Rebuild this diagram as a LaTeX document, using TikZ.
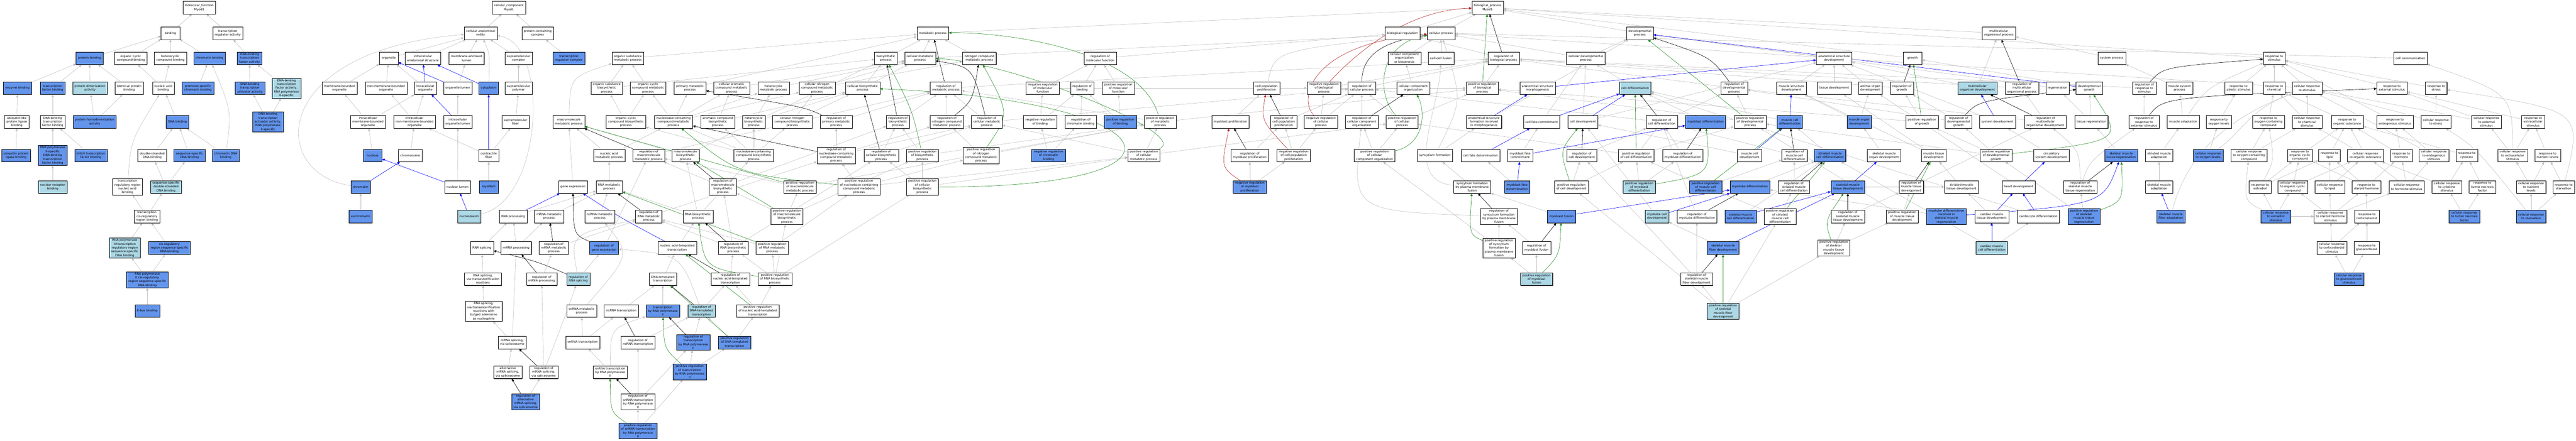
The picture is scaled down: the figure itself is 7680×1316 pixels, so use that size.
\documentclass[tikz,border=0pt]{standalone}
\usepackage{fontspec}
\newfontfamily\gofont{DejaVu Sans}
\usetikzlibrary{arrows.meta,shadows,backgrounds}
\definecolor{hitblue}{HTML}{6495ED}
\definecolor{weakblue}{HTML}{ADD8E6}
\definecolor{edgegray}{HTML}{C0C0C0}
\definecolor{posgreen}{HTML}{228B22}
\definecolor{negred}{HTML}{B22222}
\tikzset{
  goterm/.style={draw=black, line width=0.6pt, fill=white, align=center,
    font={\gofont\fontsize{9}{11.3}\selectfont}, inner xsep=6pt, inner ysep=3pt,
    minimum height=38pt, minimum width=56pt,
    drop shadow={shadow xshift=1.3pt, shadow yshift=-1.3pt, fill=black!50, opacity=1}},
  hit/.style={goterm, fill=hitblue},
  weakhit/.style={goterm, fill=weakblue},
  isa/.style={draw=edgegray, line width=0.9pt, -{Triangle[length=8pt,width=7pt]}},
  partof/.style={isa, draw=blue},
  regs/.style={isa, draw=black},
  posreg/.style={isa, draw=posgreen},
  negreg/.style={isa, draw=negred}
}
\begin{document}
\begin{tikzpicture}[x=1pt,y=-1pt]
\useasboundingbox (0,0) rectangle (7680,1316);

\node[goterm] (mf) at (594,23) {molecular\_function\\Myod1};
\node[goterm] (binding) at (508,99) {binding};
\node[goterm] (txreg) at (679,99) {transcription\\regulator activity};
\node[hit] (protbind) at (267,174) {protein binding};
\node[goterm] (orgcycbind) at (390,174) {organic cyclic\\compound binding};
\node[goterm] (hetcycbind) at (508,174) {heterocyclic\\compound binding};
\node[hit] (chrombind) at (625,174) {chromatin binding};
\node[hit] (dbtf) at (744,174) {DNA-binding\\transcription\\factor activity};
\node[hit] (enzbind) at (52,263) {enzyme binding};
\node[hit] (tfbind) at (157,263) {transcription\\factor binding};
\node[weakhit] (dimer) at (268,263) {protein dimerization\\activity};
\node[goterm] (identbind) at (385,263) {identical protein\\binding};
\node[goterm] (nabind) at (487,263) {nucleic acid\\binding};
\node[hit] (promchrom) at (590,263) {promoter-specific\\chromatin binding};
\node[hit] (dbta) at (745,263) {DNA-binding\\transcription\\activator activity};
\node[weakhit] (dbtfpol) at (854,263) {DNA-binding\\transcription\\factor activity,\\RNA polymerase\\II-specific};
\node[goterm] (ublbind) at (50,364) {ubiquitin-like\\protein ligase\\binding};
\node[goterm] (dbtfbind) at (157,364) {DNA-binding\\transcription\\factor binding};
\node[hit] (homodimer) at (282,364) {protein homodimerization\\activity};
\node[hit] (dnabind) at (529,364) {DNA binding};
\node[hit] (dbtapol) at (799,364) {DNA-binding\\transcription\\activator activity,\\RNA polymerase\\II-specific};
\node[hit] (ubbind) at (48,464) {ubiquitin protein\\ligase binding};
\node[hit] (poltfbind) at (157,464) {RNA polymerase\\II-specific\\DNA-binding\\transcription\\factor binding};
\node[hit] (bhlh) at (271,464) {bHLH transcription\\factor binding};
\node[goterm] (dsdna) at (454,464) {double-stranded\\DNA binding};
\node[hit] (ssdna) at (565,464) {sequence-specific\\DNA binding};
\node[hit] (chromdna) at (673,464) {chromatin DNA\\binding};
\node[weakhit] (nrbind) at (157,558) {nuclear receptor\\binding};
\node[goterm] (trrbind) at (380,558) {transcription\\regulatory region\\nucleic acid\\binding};
\node[weakhit] (ssdsdna) at (495,558) {sequence-specific\\double-stranded\\DNA binding};
\node[goterm] (cisbind) at (438,646) {transcription\\cis-regulatory\\region binding};
\node[weakhit] (poltrr) at (372,740) {RNA polymerase\\II transcription\\regulatory region\\sequence-specific\\DNA binding};
\node[hit] (cisss) at (505,740) {cis-regulatory\\region sequence-specific\\DNA binding};
\node[hit] (polcis) at (439,835) {RNA polymerase\\II cis-regulatory\\region sequence-specific\\DNA binding};
\node[hit] (ebox) at (439,928) {E-box binding};

\node[goterm] (cc) at (1517,23) {cellular\_component\\Myod1};
\node[goterm] (cae) at (1433,99) {cellular anatomical\\entity};
\node[goterm] (pcc) at (1603,99) {protein-containing\\complex};
\node[goterm] (organelle) at (1159,174) {organelle};
\node[goterm] (ias) at (1261,174) {intracellular\\anatomical structure};
\node[goterm] (mel) at (1391,174) {membrane-enclosed\\lumen};
\node[goterm] (supcomp) at (1546,174) {supramolecular\\complex};
\node[hit] (trcomp) at (1696,174) {transcription\\regulator complex};
\node[goterm] (mbo) at (1012,263) {membrane-bounded\\organelle};
\node[goterm] (nmbo) at (1151,263) {non-membrane-bounded\\organelle};
\node[goterm] (icorg) at (1268,263) {intracellular\\organelle};
\node[goterm] (orglumen) at (1365,263) {organelle lumen};
\node[hit] (cytoplasm) at (1457,263) {cytoplasm};
\node[goterm] (suppoly) at (1546,263) {supramolecular\\polymer};
\node[goterm] (imbo) at (1097,364) {intracellular\\membrane-bounded\\organelle};
\node[goterm] (inmbo) at (1236,364) {intracellular\\non-membrane-bounded\\organelle};
\node[goterm] (icorglumen) at (1365,364) {intracellular\\organelle lumen};
\node[goterm] (supfiber) at (1537,364) {supramolecular\\fiber};
\node[hit] (nucleus) at (1111,464) {nucleus};
\node[goterm] (chromosome) at (1223,464) {chromosome};
\node[goterm] (contractile) at (1457,464) {contractile\\fiber};
\node[hit] (chromatin) at (1075,558) {chromatin};
\node[goterm] (nuclumen) at (1364,558) {nuclear lumen};
\node[hit] (myofibril) at (1457,558) {myofibril};
\node[hit] (euchromatin) at (1075,646) {euchromatin};
\node[weakhit] (nucleoplasm) at (1399,646) {nucleoplasm};

\node[goterm] (osmp) at (1872,174) {organic substance\\metabolic process};
\node[goterm] (osbp) at (1809,263) {organic substance\\biosynthetic\\process};
\node[goterm] (occmp) at (1932,263) {organic cyclic\\compound metabolic\\process};
\node[goterm] (mmp) at (1696,364) {macromolecule\\metabolic process};
\node[goterm] (occbp) at (1866,364) {organic cyclic\\compound biosynthetic\\process};
\node[goterm] (namp) at (1816,464) {nucleic acid\\metabolic process};
\node[goterm] (regmmp) at (1934,464) {regulation of\\macromolecule\\metabolic process};
\node[goterm] (geneexp) at (1708,558) {gene expression};
\node[goterm] (rnamp) at (1816,558) {RNA metabolic\\process};
\node[goterm] (rnaproc) at (1530,646) {RNA processing};
\node[goterm] (mrnamp) at (1637,646) {mRNA metabolic\\process};
\node[goterm] (ncrnamp) at (1788,646) {ncRNA metabolic\\process};
\node[goterm] (regrnamp) at (1934,646) {regulation of\\RNA metabolic\\process};
\node[goterm] (splicing) at (1437,740) {RNA splicing};
\node[goterm] (mrnaproc) at (1539,740) {mRNA processing};
\node[goterm] (regmrnamp) at (1651,740) {regulation of\\mRNA metabolic\\process};
\node[hit] (reggeneexp) at (1801,740) {regulation of\\gene expression};
\node[goterm] (splicetrans) at (1440,833) {RNA splicing,\\via transesterification\\reactions};
\node[goterm] (regmrnaproc) at (1615,833) {regulation of\\mRNA processing};
\node[weakhit] (regsplicing) at (1724,833) {regulation of\\RNA splicing};
\node[goterm] (splicebulged) at (1442,929) {RNA splicing,\\via transesterification\\reactions with\\bulged adenosine\\as nucleophile};
\node[goterm] (snrnamp) at (1734,928) {snRNA metabolic\\process};
\node[goterm] (ncrnatx) at (1852,928) {ncRNA transcription};
\node[goterm] (splicesome) at (1527,1022) {mRNA splicing,\\via spliceosome};
\node[goterm] (snrnatx) at (1737,1022) {snRNA transcription};
\node[goterm] (regncrnatx) at (1902,1022) {regulation of\\ncRNA transcription};
\node[goterm] (altsplice) at (1514,1111) {alternative\\mRNA splicing,\\via spliceosome};
\node[goterm] (regsplicesome) at (1621,1111) {regulation of\\mRNA splicing,\\via spliceosome};
\node[goterm] (snrnapol) at (1819,1111) {snRNA transcription\\by RNA polymerase\\II};
\node[hit] (regaltsplice) at (1567,1199) {regulation of\\alternative\\mRNA splicing,\\via spliceosome};
\node[goterm] (regsnrnapol) at (1902,1199) {regulation of\\snRNA transcription\\by RNA polymerase\\II};
\node[hit] (posregsnrnapol) at (1902,1286) {positive regulation\\of snRNA transcription\\by RNA polymerase\\II};

\node[goterm] (pmp) at (2057,263) {primary metabolic\\process};
\node[goterm] (camp) at (2181,263) {cellular aromatic\\compound metabolic\\process};
\node[goterm] (hmp) at (2306,263) {heterocycle\\metabolic process};
\node[goterm] (cncmp) at (2436,263) {cellular nitrogen\\compound metabolic\\process};
\node[goterm] (cbp) at (2572,263) {cellular biosynthetic\\process};
\node[goterm] (nccmp) at (2008,364) {nucleobase-containing\\compound metabolic\\process};
\node[goterm] (acbp) at (2140,364) {aromatic compound\\biosynthetic\\process};
\node[goterm] (hbp) at (2247,364) {heterocycle\\biosynthetic\\process};
\node[goterm] (cncbp) at (2362,364) {cellular nitrogen\\compound biosynthetic\\process};
\node[goterm] (regpmp) at (2493,364) {regulation of\\primary metabolic\\process};
\node[goterm] (mbp) at (2044,464) {macromolecule\\biosynthetic\\process};
\node[goterm] (nccbp) at (2247,464) {nucleobase-containing\\compound biosynthetic\\process};
\node[goterm] (regnccmp) at (2493,464) {regulation of\\nucleobase-containing\\compound metabolic\\process};
\node[goterm] (regmbp) at (2155,558) {regulation of\\macromolecule\\biosynthetic\\process};
\node[goterm] (posregmmp) at (2385,558) {positive regulation\\of macromolecule\\metabolic process};
\node[goterm] (posregnccmp) at (2561,558) {positive regulation\\of nucleobase-containing\\compound metabolic\\process};
\node[goterm] (rnabp) at (2081,646) {RNA biosynthetic\\process};
\node[goterm] (posregmbp) at (2346,646) {positive regulation\\of macromolecule\\biosynthetic\\process};
\node[goterm] (natx) at (2019,740) {nucleic acid-templated\\transcription};
\node[goterm] (regrnabp) at (2186,740) {regulation of\\RNA biosynthetic\\process};
\node[goterm] (posregrnamp) at (2302,740) {positive regulation\\of RNA metabolic\\process};
\node[goterm] (dtx) at (1976,833) {DNA-templated\\transcription};
\node[goterm] (regnatx) at (2177,833) {regulation of\\nucleic acid-templated\\transcription};
\node[goterm] (posregrnabp) at (2310,833) {positive regulation\\of RNA biosynthetic\\process};
\node[hit] (txpol) at (1976,928) {transcription\\by RNA polymerase\\II};
\node[weakhit] (regdtx) at (2091,928) {regulation of\\DNA-templated\\transcription};
\node[goterm] (posregnatx) at (2259,928) {positive regulation\\of nucleic acid-templated\\transcription};
\node[hit] (regtxpol) at (2067,1022) {regulation of\\transcription\\by RNA polymerase\\II};
\node[hit] (posregdtx) at (2190,1022) {positive regulation\\of DNA-templated\\transcription};
\node[hit] (posregtxpol) at (2056,1110) {positive regulation\\of transcription\\by RNA polymerase\\II};

\node[goterm] (mp) at (2781,99) {metabolic process};
\node[goterm] (bp) at (2641,174) {biosynthetic\\process};
\node[goterm] (cmp) at (2743,174) {cellular metabolic\\process};
\node[goterm] (ncmp) at (2920,174) {nitrogen compound\\metabolic process};
\node[goterm] (regmp) at (2820,263) {regulation of\\metabolic process};
\node[goterm] (negregmf) at (3109,263) {negative regulation\\of molecular\\function};
\node[goterm] (regbind) at (3226,263) {regulation of\\binding};
\node[goterm] (regbp) at (2677,364) {regulation of\\biosynthetic\\process};
\node[goterm] (regncmp) at (2823,364) {regulation of\\nitrogen compound\\metabolic process};
\node[goterm] (regcmp) at (2942,364) {regulation of\\cellular metabolic\\process};
\node[goterm] (negregbind) at (3101,364) {negative regulation\\of binding};
\node[goterm] (regchrombind) at (3222,364) {regulation of\\chromatin binding};
\node[goterm] (regcbp) at (2627,464) {regulation of\\cellular biosynthetic\\process};
\node[goterm] (posregbp) at (2750,464) {positive regulation\\of biosynthetic\\process};
\node[goterm] (posregncmp) at (2925,464) {positive regulation\\of nitrogen\\compound metabolic\\process};
\node[hit] (negregchrombind) at (3126,464) {negative regulation\\of chromatin\\binding};
\node[goterm] (posregcbp) at (2750,558) {positive regulation\\of cellular\\biosynthetic\\process};

\node[goterm] (regmf) at (3280,174) {regulation of\\molecular function};
\node[goterm] (posregmf) at (3334,263) {positive regulation\\of molecular\\function};
\node[goterm] (cpp) at (3776,263) {cell population\\proliferation};
\node[hit] (posregbind) at (3340,364) {positive regulation\\of binding};
\node[goterm] (posregmp) at (3459,364) {positive regulation\\of metabolic\\process};
\node[goterm] (mbprolif) at (3668,364) {myoblast proliferation};
\node[goterm] (regcpp) at (3827,364) {regulation of\\cell population\\proliferation};
\node[goterm] (posregcmp) at (3410,464) {positive regulation\\of cellular\\metabolic process};
\node[goterm] (regmbprolif) at (3726,464) {regulation of\\myoblast proliferation};
\node[goterm] (negregcpp) at (3857,464) {negative regulation\\of cell population\\proliferation};
\node[hit] (negregmbprolif) at (3726,558) {negative regulation\\of myoblast\\proliferation};

\node[goterm] (bp0) at (4435,23) {biological\_process\\Myod1};
\node[goterm] (bioreg) at (4181,99) {biological regulation};
\node[goterm] (cellproc) at (4296,99) {cellular process};
\node[goterm] (ccob) at (4187,174) {cellular component\\organization\\or biogenesis};
\node[goterm] (ccfusion) at (4296,174) {cell-cell fusion};
\node[goterm] (regbioproc) at (4483,174) {regulation of\\biological process};
\node[goterm] (negregbioproc) at (3947,263) {negative regulation\\of biological\\process};
\node[goterm] (regcellproc) at (4060,263) {regulation of\\cellular process};
\node[goterm] (cco) at (4213,263) {cellular component\\organization};
\node[goterm] (posregbioproc) at (4419,263) {positive regulation\\of biological\\process};
\node[goterm] (negregcellproc) at (3938,364) {negative regulation\\of cellular\\process};
\node[goterm] (regcco) at (4060,364) {regulation of\\cellular component\\organization};
\node[goterm] (posregcellproc) at (4180,364) {positive regulation\\of cellular\\process};
\node[goterm] (asfim) at (4424,364) {anatomical structure\\formation involved\\in morphogenesis};
\node[goterm] (posregcco) at (4098,464) {positive regulation\\of cellular\\component organization};
\node[goterm] (syncyt) at (4278,464) {syncytium formation};
\node[goterm] (cfdet) at (4414,464) {cell fate determination};
\node[goterm] (syncytpm) at (4389,558) {syncytium formation\\by plasma membrane\\fusion};
\node[goterm] (regsyncytpm) at (4469,646) {regulation of\\syncytium formation\\by plasma membrane\\fusion};
\node[goterm] (posregsyncytpm) at (4469,740) {positive regulation\\of syncytium\\formation by\\plasma membrane\\fusion};

\node[goterm] (devproc) at (4889,99) {developmental\\process};
\node[goterm] (celldevproc) at (4728,174) {cellular developmental\\process};
\node[goterm] (asm) at (4584,263) {anatomical structure\\morphogenesis};
\node[weakhit] (celldiff) at (4875,263) {cell differentiation};
\node[goterm] (cfcommit) at (4596,364) {cell fate commitment};
\node[goterm] (celldev) at (4719,364) {cell development};
\node[goterm] (regcelldiff) at (4954,364) {regulation of\\cell differentiation};
\node[hit] (mbdiff) at (5085,364) {myoblast differentiation};
\node[goterm] (mbfatecommit) at (4532,464) {myoblast fate\\commitment};
\node[goterm] (regcelldev) at (4716,464) {regulation of\\cell development};
\node[goterm] (posregcelldiff) at (4878,464) {positive regulation\\of cell differentiation};
\node[goterm] (regmbdiff) at (5017,464) {regulation of\\myoblast differentiation};
\node[hit] (mbfatedet) at (4523,558) {myoblast fate\\determination};
\node[goterm] (posregcelldev) at (4685,558) {positive regulation\\of cell development};
\node[weakhit] (posregmbdiff) at (4887,558) {positive regulation\\of myoblast\\differentiation};
\node[hit] (posregmcdiff) at (5085,558) {positive regulation\\of muscle cell\\differentiation};
\node[hit] (mbfusion) at (4655,646) {myoblast fusion};
\node[weakhit] (myotubedev) at (4940,646) {myotube cell\\development};
\node[goterm] (regmyotubediff) at (5059,646) {regulation of\\myotube differentiation};
\node[goterm] (regmbfusion) at (4581,740) {regulation of\\myoblast fusion};
\node[hit] (smfdev) at (5137,740) {skeletal muscle\\fiber development};
\node[weakhit] (posregmbfusion) at (4581,833) {positive regulation\\of myoblast\\fusion};
\node[goterm] (regsmfdev) at (5058,833) {regulation of\\skeletal muscle\\fiber development};
\node[weakhit] (posregsmfdev) at (5137,929) {positive regulation\\of skeletal\\muscle fiber\\development};

\node[goterm] (asd) at (5468,174) {anatomical structure\\development};
\node[goterm] (growth) at (5702,174) {growth};
\node[goterm] (regdevproc) at (5170,263) {regulation of\\developmental\\process};
\node[goterm] (msd) at (5341,263) {muscle structure\\development};
\node[goterm] (tissuedev) at (5468,263) {tissue development};
\node[goterm] (aod) at (5576,263) {animal organ\\development};
\node[goterm] (reggrowth) at (5670,263) {regulation of\\growth};
\node[goterm] (posregdevproc) at (5218,364) {positive regulation\\of developmental\\process};
\node[hit] (mcdiff) at (5336,364) {muscle cell\\differentiation};
\node[hit] (mod) at (5543,364) {muscle organ\\development};
\node[goterm] (posreggrowth) at (5730,364) {positive regulation\\of growth};
\node[goterm] (mcdev) at (5216,464) {muscle cell\\development};
\node[goterm] (regmcdiff) at (5350,464) {regulation of\\muscle cell\\differentiation};
\node[hit] (smcdiff) at (5456,464) {striated muscle\\cell differentiation};
\node[goterm] (smod) at (5617,464) {skeletal muscle\\organ development};
\node[goterm] (mtd) at (5765,464) {muscle tissue\\development};
\node[hit] (myotubediff) at (5217,558) {myotube differentiation};
\node[goterm] (regsmcdiff) at (5348,558) {regulation of\\striated muscle\\cell differentiation};
\node[hit] (smtd) at (5509,558) {skeletal muscle\\tissue development};
\node[goterm] (regmtd) at (5698,558) {regulation of\\muscle tissue\\development};
\node[hit] (skmcdiff) at (5189,646) {skeletal muscle\\cell differentiation};
\node[goterm] (posregsmcdiff) at (5307,646) {positive regulation\\of striated\\muscle cell\\differentiation};
\node[goterm] (regsmtd) at (5509,646) {regulation of\\skeletal muscle\\tissue development};
\node[goterm] (posregmtd) at (5671,646) {positive regulation\\of muscle tissue\\development};
\node[hit] (myotuberegen) at (5803,646) {myotube differentiation\\involved in\\skeletal muscle\\regeneration};
\node[goterm] (posregsmtd) at (5467,740) {positive regulation\\of skeletal\\muscle tissue\\development};

\node[goterm] (mop) at (5959,99) {multicellular\\organismal process};
\node[goterm] (sysproc) at (6296,174) {system process};
\node[weakhit] (mcorgdev) at (5895,263) {multicellular\\organism development};
\node[goterm] (regmop) at (6028,263) {regulation of\\multicellular\\organismal process};
\node[goterm] (regeneration) at (6134,263) {regeneration};
\node[goterm] (devgrowth) at (6229,263) {developmental\\growth};
\node[goterm] (regrespstim) at (6393,263) {regulation of\\response to\\stimulus};
\node[goterm] (regdevgrowth) at (5839,364) {regulation of\\developmental\\growth};
\node[goterm] (sysdev) at (5955,364) {system development};
\node[goterm] (regmcod) at (6098,364) {regulation of\\multicellular\\organismal development};
\node[goterm] (tissueregen) at (6235,364) {tissue regeneration};
\node[goterm] (regrespext) at (6392,364) {regulation of\\response to\\external stimulus};
\node[goterm] (posregdevgrowth) at (5951,464) {positive regulation\\of developmental\\growth};
\node[goterm] (csd) at (6116,464) {circulatory\\system development};
\node[hit] (smtr) at (6324,464) {skeletal muscle\\tissue regeneration};
\node[goterm] (stmadapt) at (6437,464) {striated muscle\\adaptation};
\node[goterm] (stmtd) at (5848,558) {striated muscle\\tissue development};
\node[goterm] (heartdev) at (6018,558) {heart development};
\node[goterm] (regsmtr) at (6202,558) {regulation of\\skeletal muscle\\tissue regeneration};
\node[goterm] (skmadapt) at (6437,558) {skeletal muscle\\adaptation};
\node[goterm] (cmtd) at (5938,646) {cardiac muscle\\tissue development};
\node[goterm] (cardiodiff) at (6077,646) {cardiocyte differentiation};
\node[hit] (posregsmtr) at (6213,646) {positive regulation\\of skeletal\\muscle tissue\\regeneration};
\node[weakhit] (cmcdiff) at (5938,740) {cardiac muscle\\cell differentiation};

\node[goterm] (respstim) at (6780,174) {response to\\stimulus};
\node[goterm] (musclesys) at (6498,263) {muscle system\\process};
\node[goterm] (respabio) at (6674,263) {response to\\abiotic stimulus};
\node[goterm] (respchem) at (6780,263) {response to\\chemical};
\node[goterm] (cellrespstim) at (6878,263) {cellular response\\to stimulus};
\node[goterm] (muscleadapt) at (6509,364) {muscle adaptation};
\node[goterm] (respoxy) at (6615,364) {response to\\oxygen levels};
\node[goterm] (respoxcomp) at (6763,364) {response to\\oxygen-containing\\compound};
\node[goterm] (cellrespchem) at (6878,364) {cellular response\\to chemical\\stimulus};
\node[goterm] (resporg) at (6998,364) {response to\\organic substance};
\node[hit] (cellrespoxy) at (6583,464) {cellular response\\to oxygen levels};
\node[goterm] (cellrespoxcomp) at (6705,464) {cellular response\\to oxygen-containing\\compound};
\node[goterm] (respocc) at (6857,464) {response to\\organic cyclic\\compound};
\node[goterm] (resplipid) at (6945,464) {response to\\lipid};
\node[goterm] (cellresporg) at (7052,464) {cellular response\\to organic substance};
\node[goterm] (respestradiol) at (6738,558) {response to\\estradiol};
\node[goterm] (cellrespocc) at (6835,558) {cellular response\\to organic cyclic\\compound};
\node[goterm] (cellresplipid) at (6946,558) {cellular response\\to lipid};
\node[goterm] (respsteroid) at (7055,558) {response to\\steroid hormone};
\node[hit] (skmfadapt) at (6472,646) {skeletal muscle\\fiber adaptation};
\node[hit] (cellrespestradiol) at (6785,646) {cellular response\\to estradiol\\stimulus};
\node[goterm] (cellrespsteroid) at (6948,646) {cellular response\\to steroid hormone\\stimulus};
\node[goterm] (respcortico) at (7056,646) {response to\\corticosteroid};
\node[goterm] (cellrespcortico) at (6952,740) {cellular response\\to corticosteroid\\stimulus};
\node[goterm] (respgluco) at (7056,740) {response to\\glucocorticoid};
\node[hit] (cellrespgluco) at (7003,833) {cellular response\\to glucocorticoid\\stimulus};

\node[goterm] (cellcomm) at (7186,174) {cell communication};
\node[goterm] (respext) at (7131,263) {response to\\external stimulus};
\node[goterm] (respstress) at (7263,263) {response to\\stress};
\node[goterm] (respendo) at (7140,364) {response to\\endogenous stimulus};
\node[goterm] (cellrespstress) at (7262,364) {cellular response\\to stress};
\node[goterm] (cellrespext) at (7413,364) {cellular response\\to external\\stimulus};
\node[goterm] (respextcell) at (7552,364) {response to\\extracellular\\stimulus};
\node[goterm] (resphormone) at (7159,464) {response to\\hormone};
\node[goterm] (cellrespendo) at (7256,464) {cellular response\\to endogenous\\stimulus};
\node[goterm] (respcyto) at (7354,464) {response to\\cytokine};
\node[goterm] (cellrespextcell) at (7491,464) {cellular response\\to extracellular\\stimulus};
\node[goterm] (respnutr) at (7595,464) {response to\\nutrient levels};
\node[goterm] (cellresphormone) at (7175,558) {cellular response\\to hormone stimulus};
\node[goterm] (cellrespcyto) at (7295,558) {cellular response\\to cytokine\\stimulus};
\node[goterm] (resptnf) at (7401,558) {response to\\tumor necrosis\\factor};
\node[goterm] (cellrespnutr) at (7546,558) {cellular response\\to nutrient\\levels};
\node[goterm] (respstarv) at (7643,558) {response to\\starvation};
\node[hit] (cellresptnf) at (7347,646) {cellular response\\to tumor necrosis\\factor};
\node[hit] (cellrespstarv) at (7546,646) {cellular response\\to starvation};

\begin{scope}[on background layer]
\fill[white] (0,0) rectangle (7680,1316);
\draw[isa] (binding) -- (mf); \draw[isa] (txreg) -- (mf); \draw[isa] (protbind) -- (binding); \draw[isa] (orgcycbind) -- (binding);
\draw[isa] (hetcycbind) -- (binding); \draw[isa] (chrombind) -- (binding); \draw[isa] (dbtf) -- (txreg); \draw[isa] (enzbind) -- (protbind);
\draw[isa] (tfbind) -- (protbind); \draw[isa] (dimer) -- (protbind); \draw[isa] (identbind) -- (protbind); \draw[isa] (nabind) -- (orgcycbind);
\draw[isa] (nabind) -- (hetcycbind); \draw[isa] (promchrom) -- (chrombind); \draw[isa] (dbta) -- (dbtf); \draw[isa] (dbtfpol) -- (dbtf);
\draw[isa] (ublbind) -- (enzbind); \draw[isa] (dbtfbind) -- (tfbind); \draw[isa] (homodimer) -- (dimer); \draw[isa] (homodimer) -- (identbind);
\draw[isa] (dnabind) -- (nabind); \draw[isa] (dbtapol) -- (dbta); \draw[isa] (dbtapol) -- (dbtfpol); \draw[isa] (ubbind) -- (ublbind);
\draw[isa] (poltfbind) -- (dbtfbind); \draw[isa] (bhlh) -- (dbtfbind); \draw[isa] (dsdna) -- (dnabind); \draw[isa] (ssdna) -- (dnabind);
\draw[isa] (chromdna) -- (dnabind); \draw[isa] (chromdna) .. controls (690,330) .. (chrombind); \draw[isa] (nrbind) -- (poltfbind); \draw[isa] (trrbind) .. controls (390,420) .. (nabind);
\draw[isa] (ssdsdna) -- (dsdna); \draw[isa] (ssdsdna) -- (ssdna); \draw[isa] (cisbind) -- (trrbind); \draw[isa] (cisbind) -- (ssdsdna);
\draw[isa] (poltrr) -- (cisbind); \draw[isa] (cisss) -- (cisbind); \draw[isa] (polcis) -- (poltrr); \draw[isa] (polcis) -- (cisss);
\draw[isa] (ebox) -- (polcis);

\draw[isa] (cae) -- (cc); \draw[isa] (pcc) -- (cc); \draw[isa] (organelle) -- (cae); \draw[isa] (ias) -- (cae);
\draw[isa] (mel) -- (cae); \draw[isa] (supcomp) -- (cae); \draw[isa] (cytoplasm) .. controls (1460,160) .. (cae); \draw[isa] (trcomp) -- (pcc);
\draw[isa] (mbo) -- (organelle); \draw[isa] (nmbo) -- (organelle); \draw[isa] (icorg) -- (organelle); \draw[isa] (orglumen) -- (mel);
\draw[isa] (suppoly) -- (supcomp); \draw[isa] (imbo) -- (mbo); \draw[isa] (imbo) -- (icorg); \draw[isa] (inmbo) -- (nmbo);
\draw[isa] (inmbo) -- (icorg); \draw[isa] (icorglumen) -- (orglumen); \draw[isa] (supfiber) -- (suppoly); \draw[isa] (nucleus) -- (imbo);
\draw[isa] (chromosome) -- (inmbo); \draw[isa] (contractile) -- (supfiber); \draw[isa] (contractile) -- (inmbo); \draw[isa] (nuclumen) -- (icorglumen);
\draw[isa] (myofibril) -- (contractile); \draw[isa] (chromatin) .. controls (800,520) and (800,150) .. (cae); \draw[isa] (euchromatin) -- (chromatin); \draw[isa] (nucleoplasm) .. controls (1620,600) and (1640,130) .. (cae);
\draw[partof] (orglumen) -- (organelle); \draw[partof] (icorg) -- (ias); \draw[partof] (cytoplasm) -- (ias); \draw[partof] (icorglumen) -- (icorg);
\draw[partof] (contractile) -- (cytoplasm); \draw[partof] (nuclumen) -- (nucleus); \draw[partof] (chromatin) -- (chromosome); \draw[partof] (nucleoplasm) -- (nuclumen);

\draw[isa] (mp) -- (bp0); \draw[isa] (osmp) -- (mp); \draw[isa] (pmp) -- (mp); \draw[isa] (cmp) -- (mp);
\draw[isa] (cmp) -- (cellproc); \draw[isa] (bp) -- (mp); \draw[isa] (ncmp) -- (mp); \draw[isa] (osbp) -- (osmp);
\draw[isa] (osbp) -- (bp); \draw[isa] (occmp) -- (osmp); \draw[isa] (camp) -- (cmp); \draw[isa] (hmp) -- (cmp);
\draw[isa] (cncmp) -- (cmp); \draw[isa] (cncmp) -- (ncmp); \draw[isa] (cbp) -- (cmp); \draw[isa] (cbp) -- (bp);
\draw[isa] (mmp) .. controls (1700,230) .. (osmp); \draw[isa] (occbp) -- (occmp); \draw[isa] (occbp) -- (osbp); \draw[isa] (nccmp) -- (occmp);
\draw[isa] (nccmp) -- (pmp); \draw[isa] (nccmp) -- (camp); \draw[isa] (nccmp) -- (hmp); \draw[isa] (nccmp) -- (cncmp);
\draw[isa] (acbp) -- (camp); \draw[isa] (acbp) -- (cbp); \draw[isa] (hbp) -- (hmp); \draw[isa] (hbp) -- (cbp);
\draw[isa] (cncbp) -- (cncmp); \draw[isa] (cncbp) -- (cbp); \draw[isa] (regpmp) -- (regmp); \draw[isa] (namp) -- (nccmp);
\draw[isa] (namp) -- (mmp); \draw[isa] (regmmp) -- (regmp); \draw[isa] (mbp) -- (mmp); \draw[isa] (mbp) -- (bp);
\draw[isa] (nccbp) -- (nccmp); \draw[isa] (nccbp) -- (acbp); \draw[isa] (nccbp) -- (hbp); \draw[isa] (nccbp) -- (cncbp);
\draw[isa] (nccbp) -- (occbp); \draw[isa] (regnccmp) -- (regpmp); \draw[isa] (regnccmp) -- (regncmp); \draw[isa] (regnccmp) -- (regcmp);
\draw[isa] (geneexp) -- (mmp); \draw[isa] (rnamp) -- (namp); \draw[isa] (regmbp) -- (regmmp); \draw[isa] (regmbp) -- (regbp);
\draw[isa] (posregmmp) -- (regmmp); \draw[isa] (posregmmp) -- (posregmp); \draw[isa] (posregnccmp) -- (regnccmp); \draw[isa] (posregnccmp) -- (posregncmp);
\draw[isa] (posregnccmp) -- (posregcmp); \draw[isa] (rnaproc) -- (rnamp); \draw[isa] (mrnamp) -- (rnamp); \draw[isa] (ncrnamp) -- (rnamp);
\draw[isa] (regrnamp) -- (regnccmp); \draw[isa] (rnabp) -- (rnamp); \draw[isa] (rnabp) -- (nccbp); \draw[isa] (rnabp) -- (mbp);
\draw[isa] (posregmbp) -- (regmbp); \draw[isa] (posregmbp) -- (posregmmp); \draw[isa] (posregmbp) -- (posregbp); \draw[isa] (splicing) -- (rnaproc);
\draw[isa] (mrnaproc) -- (rnaproc); \draw[isa] (mrnaproc) -- (mrnamp); \draw[isa] (regmrnamp) -- (regrnamp); \draw[isa] (reggeneexp) -- (regmmp);
\draw[isa] (natx) -- (rnabp); \draw[isa] (regrnabp) -- (regrnamp); \draw[isa] (regrnabp) -- (regmbp); \draw[isa] (regrnabp) -- (regcbp);
\draw[isa] (posregrnamp) -- (regrnamp); \draw[isa] (posregrnamp) -- (posregnccmp); \draw[isa] (splicetrans) -- (splicing); \draw[isa] (regmrnaproc) -- (regmrnamp);
\draw[isa] (regsplicing) .. controls (1700,700) .. (regrnamp); \draw[isa] (regsplicing) -- (reggeneexp); \draw[isa] (dtx) -- (natx); \draw[isa] (regnatx) -- (regrnabp);
\draw[isa] (posregrnabp) -- (regrnabp); \draw[isa] (posregrnabp) -- (posregrnamp); \draw[isa] (posregrnabp) -- (posregmbp); \draw[isa] (posregrnabp) -- (posregcbp);
\draw[isa] (splicebulged) -- (splicetrans); \draw[isa] (snrnamp) .. controls (1880,760) .. (ncrnamp); \draw[isa] (ncrnatx) -- (dtx); \draw[isa] (txpol) -- (dtx);
\draw[isa] (regdtx) -- (regnatx); \draw[isa] (regdtx) .. controls (2030,760) .. (reggeneexp); \draw[isa] (posregnatx) -- (regnatx); \draw[isa] (posregnatx) -- (posregrnabp);
\draw[isa] (splicesome) -- (splicebulged); \draw[isa] (splicesome) -- (mrnaproc); \draw[isa] (snrnatx) -- (snrnamp); \draw[isa] (snrnatx) -- (ncrnatx);
\draw[isa] (regncrnatx) -- (regdtx); \draw[isa] (regtxpol) -- (regdtx); \draw[isa] (posregdtx) -- (regdtx); \draw[isa] (posregdtx) -- (posregnatx);
\draw[isa] (altsplice) -- (splicesome); \draw[isa] (regsplicesome) -- (regmrnaproc); \draw[isa] (regsplicesome) .. controls (1690,930) .. (regsplicing); \draw[isa] (snrnapol) -- (snrnatx);
\draw[isa] (snrnapol) .. controls (1820,980) .. (txpol); \draw[isa] (regsnrnapol) -- (regncrnatx); \draw[isa] (regsnrnapol) -- (regtxpol); \draw[isa] (posregtxpol) -- (regtxpol);
\draw[isa] (posregtxpol) -- (posregdtx); \draw[isa] (regaltsplice) -- (regsplicesome); \draw[isa] (posregsnrnapol) -- (regsnrnapol); \draw[isa] (posregsnrnapol) -- (posregtxpol);
\draw[isa] (regmp) -- (regbioproc); \draw[isa] (regbp) -- (regmp); \draw[isa] (regncmp) -- (regmp); \draw[isa] (regcmp) -- (regmp);
\draw[isa] (regcmp) -- (regcellproc); \draw[isa] (regcbp) -- (regbp); \draw[isa] (regcbp) -- (regcmp); \draw[isa] (posregbp) -- (regbp);
\draw[isa] (posregbp) -- (posregmp); \draw[isa] (posregncmp) -- (regncmp); \draw[isa] (posregncmp) -- (posregmp); \draw[isa] (posregcbp) -- (regcbp);
\draw[isa] (posregcbp) -- (posregbp); \draw[isa] (posregcbp) -- (posregcmp); \draw[isa] (posregmp) -- (regmp); \draw[isa] (posregmp) -- (posregbioproc);
\draw[isa] (posregcmp) -- (regcmp); \draw[isa] (posregcmp) -- (posregmp); \draw[isa] (posregcmp) -- (posregcellproc);
\draw[isa] (regmf) -- (bioreg); \draw[isa] (negregmf) -- (regmf); \draw[isa] (negregmf) -- (negregbioproc); \draw[isa] (regbind) -- (regmf);
\draw[isa] (posregmf) -- (regmf); \draw[isa] (posregmf) -- (posregbioproc); \draw[isa] (negregbind) -- (regbind); \draw[isa] (negregbind) -- (negregmf);
\draw[isa] (regchrombind) -- (regbind); \draw[isa] (posregbind) -- (regbind); \draw[isa] (posregbind) -- (posregmf); \draw[isa] (negregchrombind) -- (regchrombind);
\draw[isa] (negregchrombind) -- (negregbind);
\draw[isa] (cpp) .. controls (3800,150) .. (cellproc); \draw[isa] (mbprolif) -- (cpp); \draw[isa] (regcpp) -- (regcellproc); \draw[isa] (regmbprolif) -- (regcpp);
\draw[isa] (negregcpp) -- (regcpp); \draw[isa] (negregcpp) -- (negregcellproc); \draw[isa] (negregmbprolif) -- (regmbprolif); \draw[isa] (negregmbprolif) -- (negregcpp);
\draw[partof] (rnaproc) -- (geneexp); \draw[partof] (natx) .. controls (1850,650) .. (geneexp);

\draw[isa] (bioreg) -- (bp0); \draw[isa] (cellproc) -- (bp0); \draw[isa] (devproc) -- (bp0); \draw[isa] (mop) -- (bp0);
\draw[isa] (respstim) -- (bp0); \draw[isa] (growth) -- (bp0); \draw[isa] (cellcomm) -- (cellproc); \draw[isa] (regbioproc) -- (bioreg);
\draw[isa] (ccob) -- (cellproc); \draw[isa] (ccfusion) -- (cellproc); \draw[isa] (negregbioproc) -- (regbioproc); \draw[isa] (posregbioproc) -- (regbioproc);
\draw[isa] (regcellproc) -- (regbioproc); \draw[isa] (cco) -- (ccob); \draw[isa] (negregcellproc) -- (regcellproc); \draw[isa] (negregcellproc) -- (negregbioproc);
\draw[isa] (regcco) -- (regcellproc); \draw[isa] (posregcellproc) -- (regcellproc); \draw[isa] (posregcellproc) -- (posregbioproc); \draw[isa] (posregcco) -- (regcco);
\draw[isa] (posregcco) -- (posregcellproc); \draw[isa] (syncyt) .. controls (4360,300) .. (cellproc); \draw[isa] (syncyt) -- (asfim); \draw[isa] (asfim) -- (devproc);
\draw[isa] (syncytpm) -- (syncyt); \draw[isa] (syncytpm) .. controls (4180,540) and (4290,330) .. (ccfusion); \draw[isa] (regsyncytpm) .. controls (4030,630) .. (regcco); \draw[isa] (posregsyncytpm) -- (regsyncytpm);
\draw[isa] (posregsyncytpm) -- (posregcco);
\draw[isa] (celldevproc) -- (devproc); \draw[isa] (celldevproc) -- (cellproc); \draw[isa] (asd) -- (devproc); \draw[isa] (celldiff) -- (celldevproc);
\draw[isa] (regdevproc) -- (regbioproc); \draw[isa] (cfcommit) -- (celldevproc); \draw[isa] (celldev) -- (celldevproc); \draw[isa] (celldev) -- (asd);
\draw[isa] (regcelldiff) -- (regdevproc); \draw[isa] (regcelldiff) -- (regcellproc); \draw[isa] (mbdiff) -- (celldiff); \draw[isa] (mbfatecommit) -- (cfcommit);
\draw[isa] (regcelldev) -- (regcelldiff); \draw[isa] (posregcelldiff) -- (regcelldiff); \draw[isa] (posregcelldiff) -- (posregdevproc); \draw[isa] (posregcelldiff) -- (posregcellproc);
\draw[isa] (regmbdiff) -- (regcelldiff); \draw[isa] (mbfatedet) -- (cfdet); \draw[isa] (posregcelldev) -- (regcelldev); \draw[isa] (posregcelldev) -- (posregcelldiff);
\draw[isa] (posregmbdiff) -- (regmbdiff); \draw[isa] (posregmbdiff) -- (posregcelldiff); \draw[isa] (posregmcdiff) -- (regmcdiff); \draw[isa] (posregmcdiff) -- (posregcelldiff);
\draw[isa] (mbfusion) -- (syncytpm); \draw[isa] (myotubedev) -- (celldev); \draw[isa] (regmyotubediff) -- (regcelldiff); \draw[isa] (regmbfusion) -- (regsyncytpm);
\draw[isa] (smfdev) -- (myotubedev); \draw[isa] (posregmbfusion) -- (regmbfusion); \draw[isa] (posregmbfusion) -- (posregsyncytpm); \draw[isa] (regsmfdev) -- (regmyotubediff);
\draw[isa] (regsmfdev) -- (regcelldev); \draw[isa] (posregsmfdev) -- (regsmfdev); \draw[isa] (posregsmfdev) -- (posregcelldev); \draw[isa] (posregsmfdev) -- (posregsmcdiff);
\draw[isa] (posregsmfdev) -- (posregsmtd);
\draw[isa] (msd) -- (asd); \draw[isa] (tissuedev) -- (asd); \draw[isa] (aod) -- (asd); \draw[isa] (reggrowth) -- (regbioproc);
\draw[isa] (posregdevproc) -- (regdevproc); \draw[isa] (posregdevproc) -- (posregbioproc); \draw[isa] (mcdiff) -- (celldiff); \draw[isa] (mod) -- (aod);
\draw[isa] (mod) -- (msd); \draw[isa] (posreggrowth) -- (reggrowth); \draw[isa] (posreggrowth) -- (posregbioproc); \draw[isa] (mcdev) -- (celldev);
\draw[isa] (regmcdiff) -- (regcelldiff); \draw[isa] (smcdiff) -- (mcdiff); \draw[isa] (smod) -- (mod); \draw[isa] (mtd) -- (tissuedev);
\draw[isa] (mtd) -- (msd); \draw[isa] (myotubediff) -- (smcdiff); \draw[isa] (regsmcdiff) -- (regmcdiff); \draw[isa] (smtd) -- (stmtd);
\draw[isa] (regmtd) -- (regmcod); \draw[isa] (skmcdiff) -- (smcdiff); \draw[isa] (posregsmcdiff) -- (regsmcdiff); \draw[isa] (posregsmcdiff) -- (posregmcdiff);
\draw[isa] (regsmtd) -- (regmtd); \draw[isa] (posregmtd) -- (regmtd); \draw[isa] (posregmtd) -- (posregdevproc); \draw[isa] (myotuberegen) -- (myotubediff);
\draw[isa] (posregsmtd) -- (regsmtd); \draw[isa] (posregsmtd) -- (posregmtd);
\draw[isa] (sysproc) -- (mop); \draw[isa] (mcorgdev) -- (mop); \draw[isa] (mcorgdev) -- (asd); \draw[isa] (regmop) -- (regbioproc);
\draw[isa] (regeneration) -- (devproc); \draw[isa] (devgrowth) -- (growth); \draw[isa] (regdevgrowth) -- (reggrowth); \draw[isa] (regdevgrowth) -- (regdevproc);
\draw[isa] (sysdev) -- (asd); \draw[isa] (regmcod) -- (regmop); \draw[isa] (regmcod) -- (regdevproc); \draw[isa] (tissueregen) -- (regeneration);
\draw[isa] (tissueregen) -- (devgrowth); \draw[isa] (regrespstim) -- (regbioproc); \draw[isa] (regrespext) -- (regrespstim); \draw[isa] (posregdevgrowth) -- (regdevgrowth);
\draw[isa] (posregdevgrowth) -- (posregdevproc); \draw[isa] (posregdevgrowth) -- (posreggrowth); \draw[isa] (csd) -- (sysdev); \draw[isa] (smtr) -- (tissueregen);
\draw[isa] (stmadapt) -- (muscleadapt); \draw[isa] (stmtd) -- (mtd); \draw[isa] (heartdev) -- (aod); \draw[isa] (regsmtr) .. controls (6230,480) .. (regrespext);
\draw[isa] (regsmtr) .. controls (6200,450) .. (regmcod); \draw[isa] (skmadapt) -- (stmadapt); \draw[isa] (cmtd) -- (stmtd); \draw[isa] (cardiodiff) -- (celldiff);
\draw[isa] (posregsmtr) -- (regsmtr); \draw[isa] (posregsmtr) -- (posregdevgrowth); \draw[isa] (cmcdiff) -- (cardiodiff); \draw[isa] (cmcdiff) -- (smcdiff);
\draw[partof] (asm) -- (asd); \draw[partof] (cfcommit) -- (celldiff); \draw[partof] (celldev) -- (celldiff); \draw[partof] (mbfatecommit) -- (mbdiff);
\draw[partof] (mbfatedet) -- (mbfatecommit); \draw[partof] (cfdet) -- (cfcommit); \draw[partof] (asfim) -- (asm); \draw[partof] (mbfusion) -- (myotubediff);
\draw[partof] (myotubedev) -- (myotubediff); \draw[partof] (smfdev) -- (smtd); \draw[partof] (mcdiff) -- (msd); \draw[partof] (mcdev) -- (mcdiff);
\draw[partof] (skmcdiff) -- (smtd); \draw[partof] (smtd) -- (smod); \draw[partof] (myotuberegen) .. controls (6270,610) .. (smtr); \draw[partof] (devgrowth) -- (devproc);
\draw[partof] (sysdev) -- (mcorgdev); \draw[partof] (heartdev) -- (csd); \draw[partof] (cmtd) -- (heartdev); \draw[partof] (cardiodiff) -- (heartdev);
\draw[partof] (cmcdiff) -- (cmtd); \draw[partof] (skmfadapt) -- (skmadapt);

\draw[isa] (musclesys) -- (sysproc); \draw[isa] (respabio) -- (respstim); \draw[isa] (respchem) -- (respstim); \draw[isa] (cellrespstim) -- (respstim);
\draw[isa] (cellrespstim) -- (cellproc); \draw[isa] (muscleadapt) -- (musclesys); \draw[isa] (muscleadapt) .. controls (6580,260) .. (respstim); \draw[isa] (respoxy) -- (respabio);
\draw[isa] (respoxcomp) -- (respchem); \draw[isa] (cellrespchem) -- (respchem); \draw[isa] (cellrespchem) -- (cellrespstim); \draw[isa] (resporg) -- (respchem);
\draw[isa] (cellrespoxy) -- (respoxy); \draw[isa] (cellrespoxy) .. controls (6680,400) and (6700,330) .. (cellrespstim); \draw[isa] (cellrespoxcomp) -- (respoxcomp); \draw[isa] (cellrespoxcomp) -- (cellrespchem);
\draw[isa] (respocc) -- (resporg); \draw[isa] (resplipid) -- (resporg); \draw[isa] (cellresporg) -- (resporg); \draw[isa] (cellresporg) -- (cellrespchem);
\draw[isa] (respestradiol) -- (respocc); \draw[isa] (respestradiol) -- (resplipid); \draw[isa] (respestradiol) .. controls (6780,480) .. (respoxcomp); \draw[isa] (cellrespocc) -- (respocc);
\draw[isa] (cellrespocc) -- (cellresporg); \draw[isa] (cellresplipid) -- (resplipid); \draw[isa] (cellresplipid) -- (cellresporg); \draw[isa] (respsteroid) -- (resplipid);
\draw[isa] (respsteroid) -- (resphormone); \draw[isa] (respsteroid) -- (respocc); \draw[isa] (skmfadapt) .. controls (6530,420) and (6700,330) .. (cellrespstim); \draw[isa] (cellrespestradiol) -- (respestradiol);
\draw[isa] (cellrespestradiol) -- (cellrespocc); \draw[isa] (cellrespestradiol) .. controls (6690,600) .. (cellrespoxcomp); \draw[isa] (cellrespestradiol) -- (cellrespsteroid); \draw[isa] (cellrespsteroid) -- (cellresplipid);
\draw[isa] (cellrespsteroid) -- (respsteroid); \draw[isa] (cellrespsteroid) -- (cellresphormone); \draw[isa] (cellrespsteroid) -- (cellrespocc); \draw[isa] (respcortico) -- (respsteroid);
\draw[isa] (cellrespcortico) -- (cellrespsteroid); \draw[isa] (cellrespcortico) -- (respcortico); \draw[isa] (respgluco) -- (respcortico); \draw[isa] (cellrespgluco) -- (cellrespcortico);
\draw[isa] (cellrespgluco) -- (respgluco);
\draw[isa] (respext) -- (respstim); \draw[isa] (respstress) -- (respstim); \draw[isa] (respendo) -- (respstim); \draw[isa] (cellrespstress) -- (respstress);
\draw[isa] (cellrespstress) -- (cellrespstim); \draw[isa] (cellrespext) -- (respext); \draw[isa] (cellrespext) -- (cellrespstim); \draw[isa] (respextcell) -- (respext);
\draw[isa] (resphormone) -- (respendo); \draw[isa] (resphormone) -- (resporg); \draw[isa] (cellrespendo) -- (respendo); \draw[isa] (cellrespendo) -- (cellrespstim);
\draw[isa] (respcyto) -- (resporg); \draw[isa] (cellrespextcell) -- (cellrespext); \draw[isa] (cellrespextcell) -- (respextcell); \draw[isa] (cellrespextcell) .. controls (7490,280) .. (cellcomm);
\draw[isa] (respnutr) -- (respextcell); \draw[isa] (cellresphormone) -- (resphormone); \draw[isa] (cellresphormone) -- (cellrespendo); \draw[isa] (cellresphormone) -- (cellresporg);
\draw[isa] (cellrespcyto) -- (respcyto); \draw[isa] (cellrespcyto) -- (cellresporg); \draw[isa] (resptnf) -- (respcyto); \draw[isa] (cellrespnutr) -- (cellrespextcell);
\draw[isa] (cellrespnutr) -- (respnutr); \draw[isa] (respstarv) -- (respnutr); \draw[isa] (respstarv) .. controls (7700,330) .. (respstress); \draw[isa] (cellresptnf) -- (cellrespcyto);
\draw[isa] (cellresptnf) -- (resptnf); \draw[isa] (cellrespstarv) -- (cellrespnutr); \draw[isa] (cellrespstarv) -- (respstarv); \draw[isa] (cellrespstarv) .. controls (7380,440) .. (cellrespstress);

\draw[regs] (regpmp) .. controls (2400,320) .. (pmp); \draw[regs] (regmmp) -- (mmp); \draw[regs] (regnccmp) -- (nccmp); \draw[regs] (regmbp) -- (mbp);
\draw[regs] (regrnamp) -- (rnamp); \draw[regs] (regmrnamp) -- (mrnamp); \draw[regs] (reggeneexp) .. controls (1710,700) .. (geneexp); \draw[regs] (regrnabp) -- (rnabp);
\draw[regs] (regmrnaproc) -- (mrnaproc); \draw[regs] (regsplicing) .. controls (1600,780) .. (splicing); \draw[regs] (regnatx) -- (natx); \draw[regs] (regdtx) -- (dtx);
\draw[regs] (regncrnatx) -- (ncrnatx); \draw[regs] (regtxpol) -- (txpol); \draw[regs] (regsplicesome) -- (splicesome); \draw[regs] (regsnrnapol) -- (snrnapol);
\draw[regs] (regaltsplice) -- (altsplice); \draw[regs] (regmp) .. controls (2800,180) .. (mp); \draw[regs] (regbp) -- (bp); \draw[regs] (regncmp) .. controls (2900,300) .. (ncmp);
\draw[regs] (regcmp) .. controls (2900,200) .. (cmp); \draw[regs] (regcbp) -- (cbp); \draw[regs] (regcpp) -- (cpp); \draw[regs] (regmbprolif) -- (mbprolif);
\draw[regs] (regbioproc) -- (bp0); \draw[regs] (regcellproc) .. controls (4060,150) and (4150,120) .. (cellproc); \draw[regs] (regcco) -- (cco); \draw[regs] (regsyncytpm) -- (syncytpm);
\draw[regs] (regdevproc) .. controls (5100,170) .. (devproc); \draw[regs] (regcelldiff) -- (celldiff); \draw[regs] (regcelldev) -- (celldev); \draw[regs] (regmbdiff) -- (mbdiff);
\draw[regs] (regmyotubediff) -- (myotubediff); \draw[regs] (regmbfusion) -- (mbfusion); \draw[regs] (regsmfdev) -- (smfdev); \draw[regs] (regmcdiff) -- (mcdiff);
\draw[regs] (regsmcdiff) -- (smcdiff); \draw[regs] (regsmtd) -- (smtd); \draw[regs] (regmtd) -- (mtd); \draw[regs] (reggrowth) -- (growth);
\draw[regs] (regmop) -- (mop); \draw[regs] (regdevgrowth) .. controls (5900,300) .. (devgrowth); \draw[regs] (regmcod) -- (mcorgdev); \draw[regs] (regsmtr) -- (smtr);
\draw[regs] (regrespstim) .. controls (6450,200) .. (respstim); \draw[regs] (regrespext) .. controls (6450,290) .. (respext);

\draw[posreg] (posregmmp) -- (mmp); \draw[posreg] (posregnccmp) .. controls (2200,520) .. (nccmp); \draw[posreg] (posregmbp) -- (mbp); \draw[posreg] (posregrnamp) -- (rnamp);
\draw[posreg] (posregrnabp) .. controls (2100,800) .. (rnabp); \draw[posreg] (posregnatx) -- (natx); \draw[posreg] (posregdtx) -- (dtx); \draw[posreg] (posregtxpol) .. controls (1980,1040) .. (txpol);
\draw[posreg] (posregsnrnapol) .. controls (1820,1230) .. (snrnapol); \draw[posreg] (posregbp) .. controls (2720,330) .. (bp); \draw[posreg] (posregncmp) .. controls (3010,340) .. (ncmp); \draw[posreg] (posregcbp) .. controls (3620,560) and (3500,300) .. (cbp);
\draw[posreg] (posregmp) .. controls (3400,150) and (3000,95) .. (mp); \draw[posreg] (posregcmp) .. controls (3560,400) and (3000,180) .. (cmp); \draw[posreg] (posregbioproc) -- (bp0); \draw[posreg] (posregcellproc) .. controls (4100,280) and (4110,130) .. (cellproc);
\draw[posreg] (posregcco) .. controls (4250,430) and (4250,330) .. (cco); \draw[posreg] (posregsyncytpm) .. controls (4380,700) .. (syncytpm); \draw[posreg] (posregcelldiff) -- (celldiff); \draw[posreg] (posregcelldev) .. controls (4650,450) .. (celldev);
\draw[posreg] (posregmbdiff) .. controls (5100,520) .. (mbdiff); \draw[posreg] (posregmcdiff) -- (mcdiff); \draw[posreg] (posregmbfusion) .. controls (4650,760) .. (mbfusion); \draw[posreg] (posregsmfdev) -- (smfdev);
\draw[posreg] (posregdevproc) -- (devproc); \draw[posreg] (posreggrowth) -- (growth); \draw[posreg] (posregsmcdiff) -- (smcdiff); \draw[posreg] (posregmtd) -- (mtd);
\draw[posreg] (posregsmtd) .. controls (5440,660) .. (smtd); \draw[posreg] (posregdevgrowth) .. controls (6330,420) .. (devgrowth); \draw[posreg] (posregsmtr) .. controls (6330,600) .. (smtr);

\draw[negreg] (negregbioproc) .. controls (4050,150) and (4200,30) .. (bp0); \draw[negreg] (negregcellproc) .. controls (3870,300) and (3900,130) .. (cellproc); \draw[negreg] (negregcpp) .. controls (3760,360) .. (cpp); \draw[negreg] (negregmbprolif) .. controls (3640,500) .. (mbprolif);
\end{scope}
\end{tikzpicture}
\end{document}
